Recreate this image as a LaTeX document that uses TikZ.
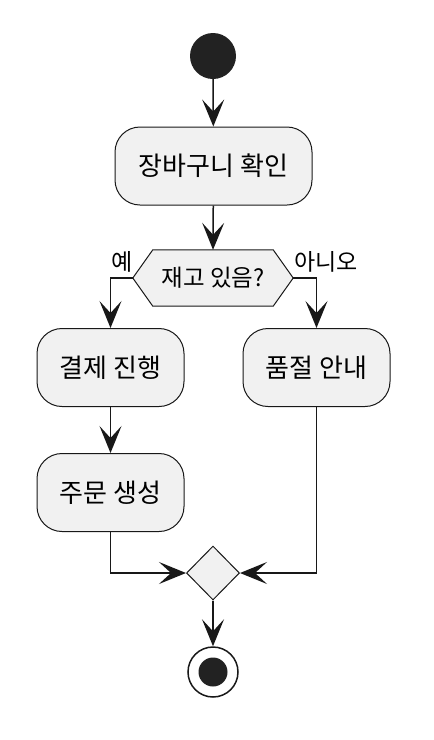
\documentclass[tikz,border=0pt]{standalone}
\usepackage{fontspec}
\setmainfont{Noto Sans CJK KR}
\usetikzlibrary{arrows.meta,shapes.geometric,backgrounds}
\definecolor{boxfill}{HTML}{F1F1F1}
\definecolor{ink}{HTML}{181818}
\definecolor{dot}{HTML}{222222}
\begin{document}
\begin{tikzpicture}[x=1pt,y=-1pt,
  act/.style={draw=ink,fill=boxfill,line width=1pt,rounded corners=25pt,
    minimum height=78pt,inner sep=0pt,font=\fontsize{26}{30}\selectfont},
  arr/.style={draw=ink,line width=1.5pt,-{Stealth[length=27pt,width=22pt,inset=12pt]}},
  lbl/.style={font=\fontsize{23}{27}\selectfont,text=black,inner sep=0pt}]
\useasboundingbox (0,0) rectangle (434,740);
\node[circle,fill=dot,minimum size=46pt,inner sep=0pt] (start) at (213,56) {};
\node[act,minimum width=197pt] (check) at (213.5,166) {장바구니 확인};
\node[minimum width=160pt,minimum height=56pt,inner sep=0pt,
  font=\fontsize{23.5}{27}\selectfont] (dec) at (213,278) {재고 있음?};
\begin{scope}[on background layer]
\draw[draw=ink,fill=boxfill,line width=1pt] (dec.west) -- ([xshift=20pt]dec.north west)
  -- ([xshift=-20pt]dec.north east) -- (dec.east) -- ([xshift=-20pt]dec.south east)
  -- ([xshift=20pt]dec.south west) -- cycle;
\end{scope}
\node[act,minimum width=147pt] (pay) at (110.5,367.5) {결제 진행};
\node[act,minimum width=147pt] (soldout) at (316.5,367.5) {품절 안내};
\node[act,minimum width=147pt] (order) at (110.5,492.5) {주문 생성};
\node[diamond,draw=ink,fill=boxfill,line width=1pt,minimum width=53pt,minimum height=54pt,inner sep=0pt] (merge) at (213,573) {};
\node[circle,draw=ink,fill=white,line width=1.5pt,minimum size=50pt,inner sep=0pt] (stop) at (213,672) {};
\node[circle,fill=dot,minimum size=29pt,inner sep=0pt] (stopdot) at (stop) {};
\node[lbl] (yes) at (122,262) {예};
\node[lbl] (no) at (326,262) {아니오};
\draw[arr] (start) -- (check);
\draw[arr] (check) -- (dec.north);
\draw[arr] (dec.west) -| (pay.north);
\draw[arr] (dec.east) -| (soldout.north);
\draw[arr] (pay) -- (order);
\draw[arr] (order.south) |- (merge.west);
\draw[arr] (soldout.south) |- (merge.east);
\draw[arr] (merge) -- (stop);
\end{tikzpicture}
\end{document}
